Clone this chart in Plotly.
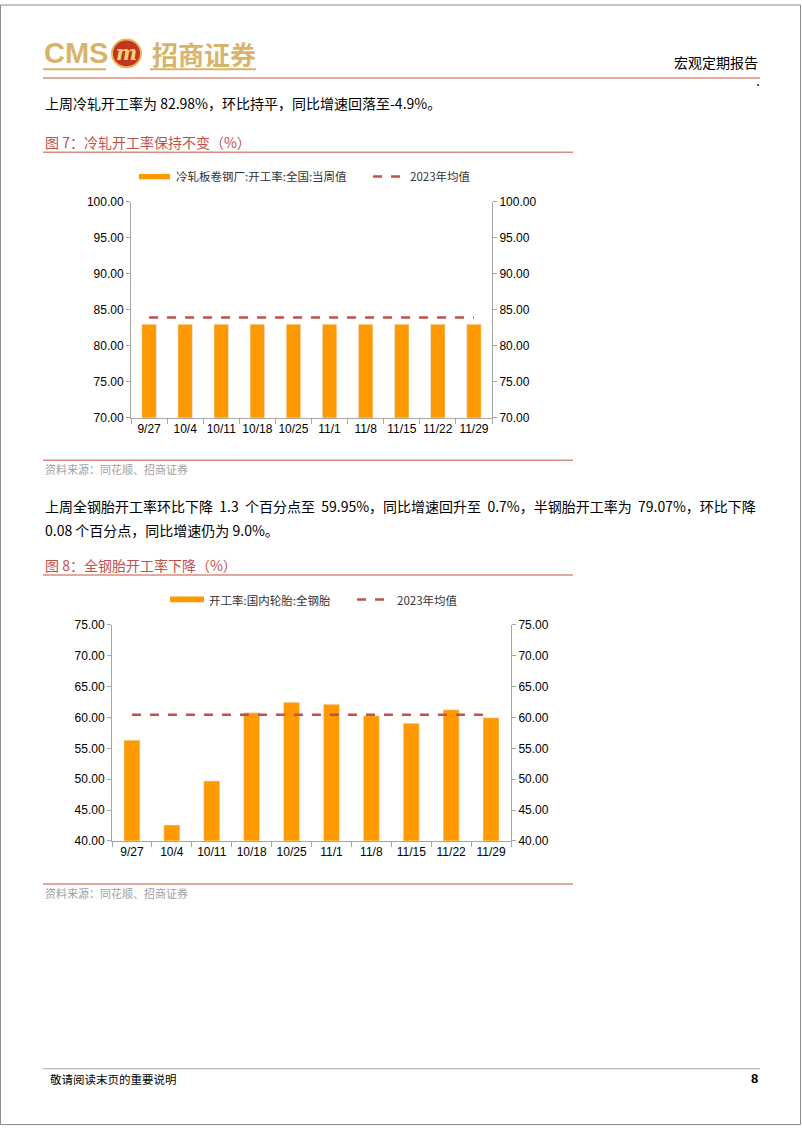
import plotly.graph_objects as go

W, H = 802, 1133

# ---------------- data ----------------
dates = ["9/27", "10/4", "10/11", "10/18", "10/25", "11/1", "11/8", "11/15", "11/22", "11/29"]
cold_rolled = [82.98, 82.98, 82.98, 82.98, 82.98, 82.98, 82.98, 82.98, 82.98, 82.98]
cold_rolled_mean_2023 = 83.93
tire_all_steel = [56.33, 42.56, 49.70, 60.75, 62.46, 62.14, 60.27, 59.05, 61.25, 59.95]
tire_mean_2023 = 60.43

name_bar1 = "冷轧板卷钢厂:开工率:全国:当周值"
name_bar2 = "开工率:国内轮胎:全钢胎"
name_mean = "2023年均值"

y1_ticks = [70, 75, 80, 85, 90, 95, 100]
y2_ticks = [40, 45, 50, 55, 60, 65, 70, 75]

BAR = "#FF9900"
MEAN = "#C0504D"
AXIS = "#A6A6A6"
TITLE_C = "#C0504D"
RULE_C = "#D98C7E"
CJK = "Noto Sans CJK SC"
LAT = "Liberation Sans, Arial"


def px(x):
    return x / W


def py(y):
    return 1 - y / H


fig = go.Figure()

# chart 1
fig.add_trace(go.Bar(x=dates, y=cold_rolled, name=name_bar1, marker_color=BAR, width=0.4,
                     xaxis="x", yaxis="y"))
fig.add_trace(go.Scatter(x=dates, y=[cold_rolled_mean_2023] * len(dates), name=name_mean, mode="lines",
                         line=dict(color=MEAN, width=2.5, dash="dash"), xaxis="x", yaxis="y2"))
# chart 2
fig.add_trace(go.Bar(x=dates, y=tire_all_steel, name=name_bar2, marker_color=BAR, width=0.4,
                     xaxis="x2", yaxis="y3"))
fig.add_trace(go.Scatter(x=dates, y=[tire_mean_2023] * len(dates), name=name_mean, mode="lines",
                         line=dict(color=MEAN, width=2.5, dash="dash"), xaxis="x2", yaxis="y4"))

tickfont = dict(family=LAT, size=12, color="#000000")

xcommon = dict(type="category", showline=True, linecolor=AXIS, linewidth=1, ticks="outside",
               tickson="boundaries", ticklen=5, tickcolor=AXIS, showgrid=False, tickfont=tickfont,
               zeroline=False, fixedrange=True, tickangle=0)


def ycommon(rng, ticks, side):
    return dict(range=rng, tickvals=ticks, tickformat=".2f", showline=True, linecolor=AXIS, linewidth=1,
                ticks="outside", ticklen=4, tickcolor=AXIS, showgrid=False, zeroline=False,
                tickfont=tickfont, side=side, fixedrange=True)


d1x = [px(131), px(492)]
d1y = [py(416), py(197)]
d2x = [px(112), px(511)]
d2y = [py(844.3), py(625.7)]

fig.update_layout(
    width=W, height=H,
    margin=dict(l=0, r=0, t=0, b=0),
    paper_bgcolor="white", plot_bgcolor="rgba(0,0,0,0)",
    showlegend=False,
    xaxis=dict(domain=d1x, anchor="y", **xcommon),
    yaxis=dict(domain=d1y, anchor="x", **ycommon([70, 100], y1_ticks, "left")),
    yaxis2=dict(overlaying="y", anchor="x", **ycommon([70, 100], y1_ticks, "right")),
    xaxis2=dict(domain=d2x, anchor="y3", **xcommon),
    yaxis3=dict(domain=d2y, anchor="x2", **ycommon([40, 75], y2_ticks, "left")),
    yaxis4=dict(overlaying="y3", anchor="x2", **ycommon([40, 75], y2_ticks, "right")),
)

ann = []
shapes = []


def text(x, y, s, size=14, color="#000000", anchor="left", family=CJK, bold=False):
    if bold:
        s = "<b>" + s + "</b>"
    ann.append(dict(x=px(x), y=py(y), xref="paper", yref="paper", text=s, showarrow=False,
                    xanchor=anchor, yanchor="middle", font=dict(family=family, size=size, color=color)))


def hline(x0, x1, y, color, width=1.5, dash="solid"):
    shapes.append(dict(type="line", xref="paper", yref="paper", x0=px(x0), x1=px(x1), y0=py(y), y1=py(y),
                       line=dict(color=color, width=width, dash=dash)))


def swatch(x0, x1, y0, y1, color):
    shapes.append(dict(type="rect", xref="paper", yref="paper", x0=px(x0), x1=px(x1), y0=py(y1), y1=py(y0),
                       fillcolor=color, line=dict(width=0)))


# page border
shapes.append(dict(type="rect", xref="paper", yref="paper", x0=px(0.5), x1=px(800.5), y0=py(1131.5), y1=py(-2),
                   line=dict(color="#8C8C8C", width=1)))

# header logo
GOLD = "#D8B46A"
text(42, 47, "CMS", size=29, color=GOLD, family="Liberation Sans", bold=True)
shapes.append(dict(type="circle", xref="paper", yref="paper", x0=px(112), x1=px(141), y0=py(61), y1=py(33),
                   fillcolor="#C2361F", line=dict(color="#E7B65A", width=2)))
text(126.5, 47, "<i>m</i>", size=20, color="#F4D27A", anchor="center", family="DejaVu Serif", bold=True)
text(150, 47, "招商证券", size=26, color=GOLD, family=CJK, bold=True)
hline(43, 106, 63, GOLD, 2)
hline(150, 256, 63, GOLD, 2)
text(760, 56, "宏观定期报告", size=14, color="#000000", anchor="right")
hline(43, 760, 72, RULE_C, 1.5)
text(758, 78, "·", size=10, color="#333333", anchor="center")

# paragraph 1
text(43, 97, "上周冷轧开工率为 82.98%，环比持平，同比增速回落至-4.9%。", size=14)

# figure 7 title
text(43, 137, "图 7：冷轧开工率保持不变（%）", size=14, color=TITLE_C)
hline(43, 573, 147, RULE_C, 1.5)

# legend 1
swatch(139, 170, 169, 174.5, BAR)
text(174, 171.5, name_bar1, size=11.5, color="#333333")
hline(373, 406, 171.5, MEAN, 2.5, "dash")
text(408, 171.5, name_mean, size=11.5, color="#333333")

hline(43, 573, 459, RULE_C, 1.5)
text(43, 468, "资料来源：同花顺、招商证券", size=11, color="#A0A0A0")

# paragraph 2
text(43, 505, "上周全钢胎开工率环比下降  1.3  个百分点至  59.95%，同比增速回升至  0.7%，半钢胎开工率为  79.07%，环比下降",
     size=14)
text(43, 530, "0.08 个百分点，同比增速仍为 9.0%。", size=14)

# figure 8 title
text(43, 565, "图 8：全钢胎开工率下降（%）", size=14, color=TITLE_C)
hline(43, 573, 575, RULE_C, 1.5)

# legend 2
swatch(170, 204, 597, 602.7, BAR)
text(207, 600, name_bar2, size=11.5, color="#333333")
hline(357, 392, 600, MEAN, 2.5, "dash")
text(395, 600, name_mean, size=11.5, color="#333333")

hline(43, 573, 888, RULE_C, 1.5)
text(43, 897, "资料来源：同花顺、招商证券", size=11, color="#A0A0A0")

# footer
hline(43, 760, 1075, "#A6A6A6", 1)
text(48, 1085, "敬请阅读末页的重要说明", size=11.5, color="#000000")
text(760, 1085, "8", size=13, color="#000000", anchor="right", family=LAT, bold=True)

fig.update_layout(annotations=ann, shapes=shapes)

fig.write_html("out.html")
